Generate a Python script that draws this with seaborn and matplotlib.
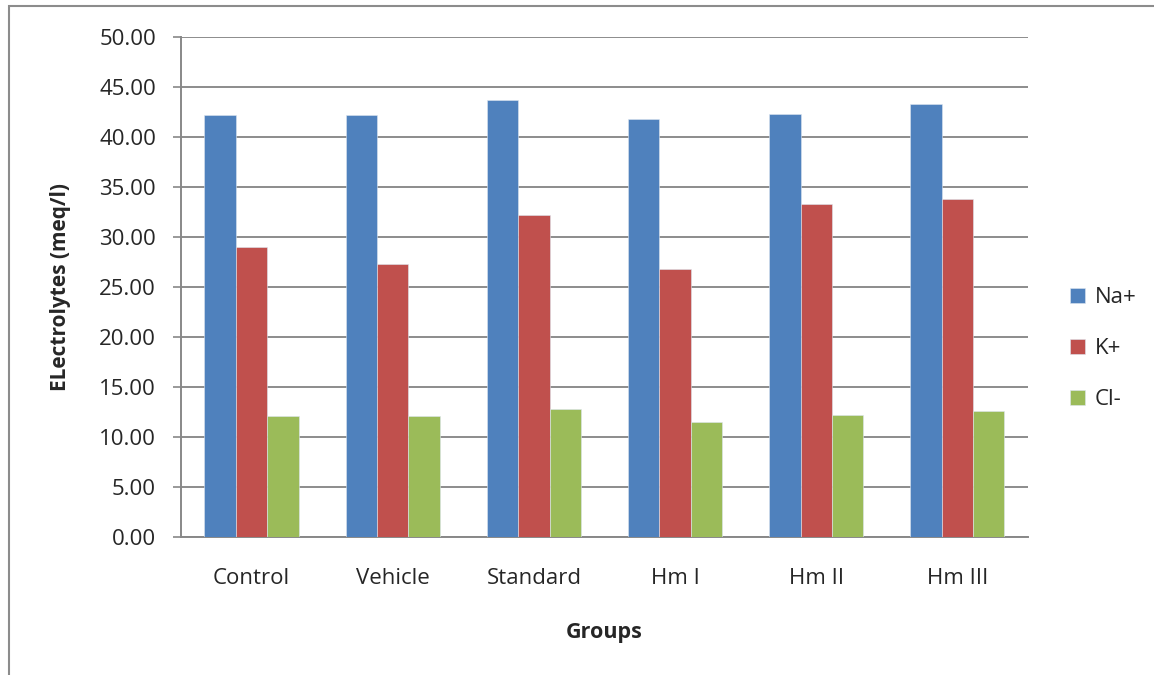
import pandas as pd
import matplotlib
matplotlib.use("Agg")
import matplotlib.pyplot as plt
import seaborn as sns
from matplotlib.patches import Rectangle

groups = ["Control", "Vehicle", "Standard", "Hm I", "Hm II", "Hm III"]
na_vals = [42.2, 42.2, 43.7, 41.8, 42.3, 43.3]
k_vals = [29.0, 27.3, 32.2, 26.8, 33.3, 33.8]
cl_vals = [12.1, 12.1, 12.8, 11.5, 12.2, 12.6]
series_names = ["Na+", "K+", "Cl-"]
colors = ["#4F81BD", "#C0504D", "#9BBB59"]

rows = []
for name, vals in zip(series_names, [na_vals, k_vals, cl_vals]):
    for g, v in zip(groups, vals):
        rows.append({"group": g, "ion": name, "value": v})
df = pd.DataFrame(rows)

sns.set_style("white")
plt.rcParams["font.family"] = ["Open Sans", "DejaVu Sans"]

fig = plt.figure(figsize=(11.54, 6.75), dpi=100)
ax = fig.add_axes([0.1568, 0.2044, 0.7340, 0.7408])

sns.barplot(data=df, x="group", y="value", hue="ion", palette=colors,
            width=0.667, gap=0, saturation=1, errorbar=None, ax=ax,
            edgecolor="#dde6f0", linewidth=0.4, zorder=3)

fs = 16
ax.set_ylim(0, 50)
ax.set_yticks(range(0, 51, 5))
ax.set_yticklabels([f"{v:.2f}" for v in range(0, 51, 5)], fontsize=fs)
ax.set_xlim(-0.5, len(groups) - 0.5)
ax.tick_params(axis="x", labelsize=fs, length=0, pad=22)
ax.tick_params(axis="y", length=6, width=1.2, color="#888888", direction="out", pad=12, left=True)
ax.grid(axis="y", color="#8c8c8c", linewidth=1.4, zorder=0)
ax.set_axisbelow(True)
for s in ["top", "right"]:
    ax.spines[s].set_visible(False)
for s in ["left", "bottom"]:
    ax.spines[s].set_color("#888888")
    ax.spines[s].set_linewidth(1.4)

ax.set_xlabel("Groups", fontsize=fs - 0.5, fontweight="bold", labelpad=24)
ax.set_ylabel("ELectrolytes (meq/l)", fontsize=fs - 1, fontweight="bold", labelpad=20)

handles, labels = ax.get_legend_handles_labels()
ax.legend_.remove()
fig.legend(handles, labels, loc="center left", bbox_to_anchor=(0.91, 0.483),
           frameon=False, fontsize=fs, handlelength=0.65, handleheight=0.65,
           labelspacing=1.35, handletextpad=0.45)

fig.patches.append(Rectangle((9 / 1154, -0.1), 1.2, 1 - 6 / 675 + 0.1,
                             transform=fig.transFigure, fill=False,
                             edgecolor="#8c8c8c", linewidth=1.5))

fig.savefig("out.png", dpi=100)
